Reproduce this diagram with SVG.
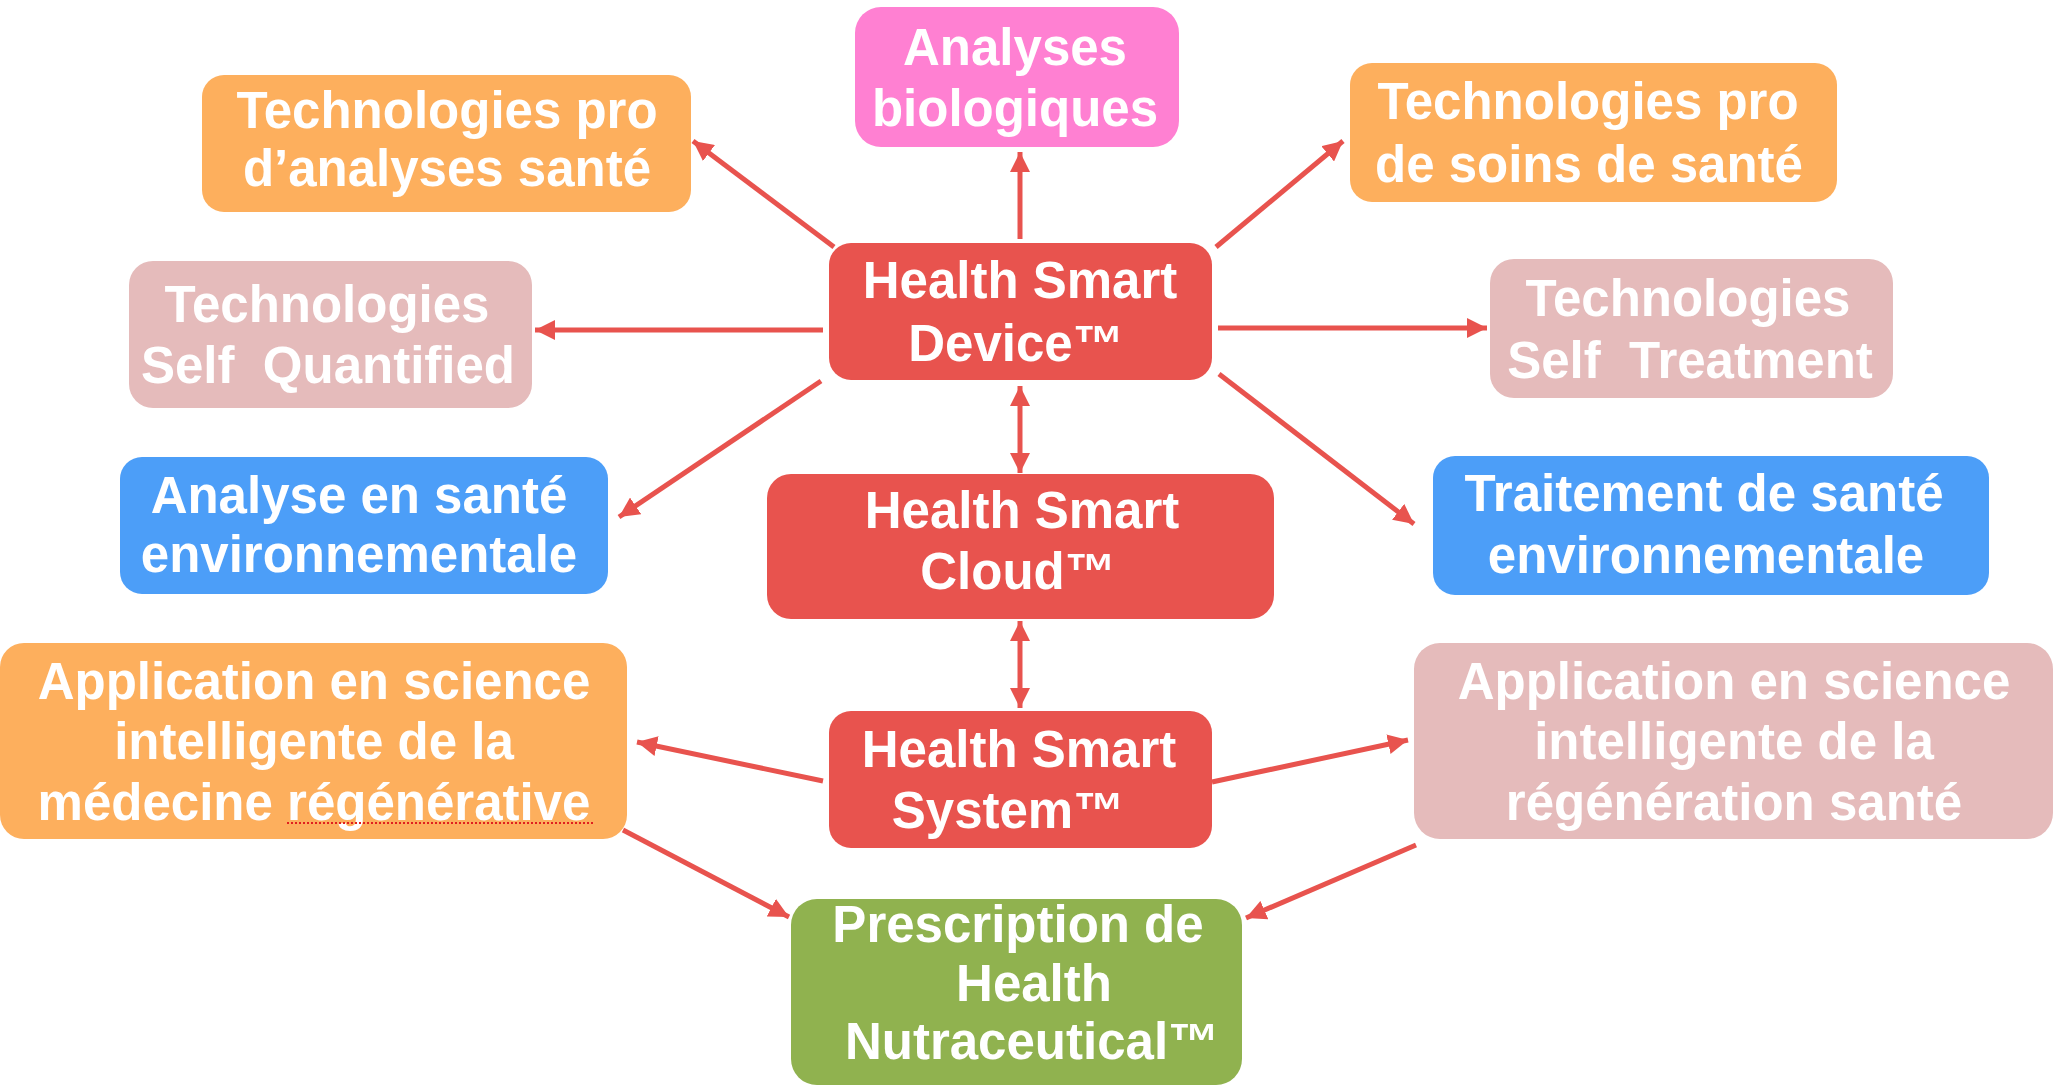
<svg xmlns="http://www.w3.org/2000/svg" width="2060" height="1086" viewBox="0 0 2060 1086">
<style>
.t{font-family:"Liberation Sans",Arial,Helvetica,sans-serif;font-weight:bold;font-size:51px;fill:#ffffff;text-anchor:middle}
.red{fill:#E8534E}
.org{fill:#FDAF5D}
.pnk{fill:#FF80D2}
.lpk{fill:#E5BBBB}
.blu{fill:#4C9EF8}
.grn{fill:#90B24F}
.c{stroke:#E8534E;stroke-width:5;fill:none}
</style>
<defs>
<marker id="ah" viewBox="0 0 20 20" refX="20" refY="10" markerWidth="20" markerHeight="20" markerUnits="userSpaceOnUse" orient="auto-start-reverse">
<path d="M0,0 L20,10 L0,20 z" fill="#E8534E"/>
</marker>
</defs>
<rect width="2060" height="1086" fill="#ffffff"/>
<g id="connectors">
<line class="c" x1="834" y1="247" x2="693" y2="141" marker-end="url(#ah)"/>
<line class="c" x1="1020" y1="239" x2="1020" y2="152" marker-end="url(#ah)"/>
<line class="c" x1="1216" y1="247" x2="1343" y2="141" marker-end="url(#ah)"/>
<line class="c" x1="823" y1="330" x2="535" y2="330" marker-end="url(#ah)"/>
<line class="c" x1="1218" y1="328" x2="1487" y2="328" marker-end="url(#ah)"/>
<line class="c" x1="821" y1="381" x2="619" y2="517" marker-end="url(#ah)"/>
<line class="c" x1="1219" y1="374" x2="1414" y2="524" marker-end="url(#ah)"/>
<line class="c" x1="1020" y1="386" x2="1020" y2="473" marker-start="url(#ah)" marker-end="url(#ah)"/>
<line class="c" x1="1020" y1="621" x2="1020" y2="708" marker-start="url(#ah)" marker-end="url(#ah)"/>
<line class="c" x1="823" y1="781" x2="637" y2="742" marker-end="url(#ah)"/>
<line class="c" x1="1212" y1="782" x2="1408" y2="740" marker-end="url(#ah)"/>
<line class="c" x1="623" y1="830" x2="789" y2="917" marker-end="url(#ah)"/>
<line class="c" x1="1416" y1="845" x2="1246" y2="918" marker-end="url(#ah)"/>
</g>
<g id="analyses-biologiques">
<rect class="pnk" x="855" y="7" width="324" height="140" rx="26"/>
<text class="t" x="1015" y="65">Analyses</text>
<text class="t" x="1015" y="126">biologiques</text>
</g>
<g id="tech-pro-analyses">
<rect class="org" x="202" y="75" width="489" height="137" rx="22"/>
<text class="t" x="447" y="128">Technologies pro</text>
<text class="t" x="447" y="186">d’analyses santé</text>
</g>
<g id="tech-pro-soins">
<rect class="org" x="1350" y="63" width="487" height="139" rx="22"/>
<text class="t" x="1588" y="119">Technologies pro</text>
<text class="t" x="1589" y="182">de soins de santé</text>
</g>
<g id="self-quantified">
<rect class="lpk" x="129" y="261" width="403" height="147" rx="24"/>
<text class="t" x="327" y="322">Technologies</text>
<text class="t" x="328" y="383" xml:space="preserve">Self  Quantified</text>
</g>
<g id="self-treatment">
<rect class="lpk" x="1490" y="259" width="403" height="139" rx="24"/>
<text class="t" x="1688" y="316">Technologies</text>
<text class="t" x="1690" y="378" xml:space="preserve">Self  Treatment</text>
</g>
<g id="health-smart-device">
<rect class="red" x="829" y="243" width="383" height="137" rx="22"/>
<text class="t" x="1020" y="298">Health Smart</text>
<text class="t" x="1016" y="361">Device™</text>
</g>
<g id="analyse-env">
<rect class="blu" x="120" y="457" width="488" height="137" rx="22"/>
<text class="t" x="359" y="513">Analyse en santé</text>
<text class="t" x="359" y="572">environnementale</text>
</g>
<g id="health-smart-cloud">
<rect class="red" x="767" y="474" width="507" height="145" rx="24"/>
<text class="t" x="1022" y="528">Health Smart</text>
<text class="t" x="1018" y="589">Cloud™</text>
</g>
<g id="traitement-env">
<rect class="blu" x="1433" y="456" width="556" height="139" rx="22"/>
<text class="t" x="1704" y="511">Traitement de santé</text>
<text class="t" x="1706" y="573">environnementale</text>
</g>
<g id="application-medecine">
<rect class="org" x="0" y="643" width="627" height="196" rx="24"/>
<text class="t" x="314" y="699">Application en science</text>
<text class="t" x="314" y="759">intelligente de la</text>
<text class="t" x="314" y="820">médecine régénérative</text>
<line x1="287" y1="823" x2="595" y2="823" stroke="#E02020" stroke-width="2" stroke-dasharray="2 2"/>
</g>
<g id="health-smart-system">
<rect class="red" x="829" y="711" width="383" height="137" rx="22"/>
<text class="t" x="1019" y="767">Health Smart</text>
<text class="t" x="1008" y="828">System™</text>
</g>
<g id="application-regeneration">
<rect class="lpk" x="1414" y="643" width="639" height="196" rx="26"/>
<text class="t" x="1734" y="699">Application en science</text>
<text class="t" x="1734" y="759">intelligente de la</text>
<text class="t" x="1734" y="820">régénération santé</text>
</g>
<g id="prescription">
<rect class="grn" x="791" y="899" width="451" height="186" rx="26"/>
<text class="t" x="1018" y="942">Prescription de</text>
<text class="t" x="1034" y="1001">Health</text>
<text class="t" x="1032" y="1059">Nutraceutical™</text>
</g>
</svg>
